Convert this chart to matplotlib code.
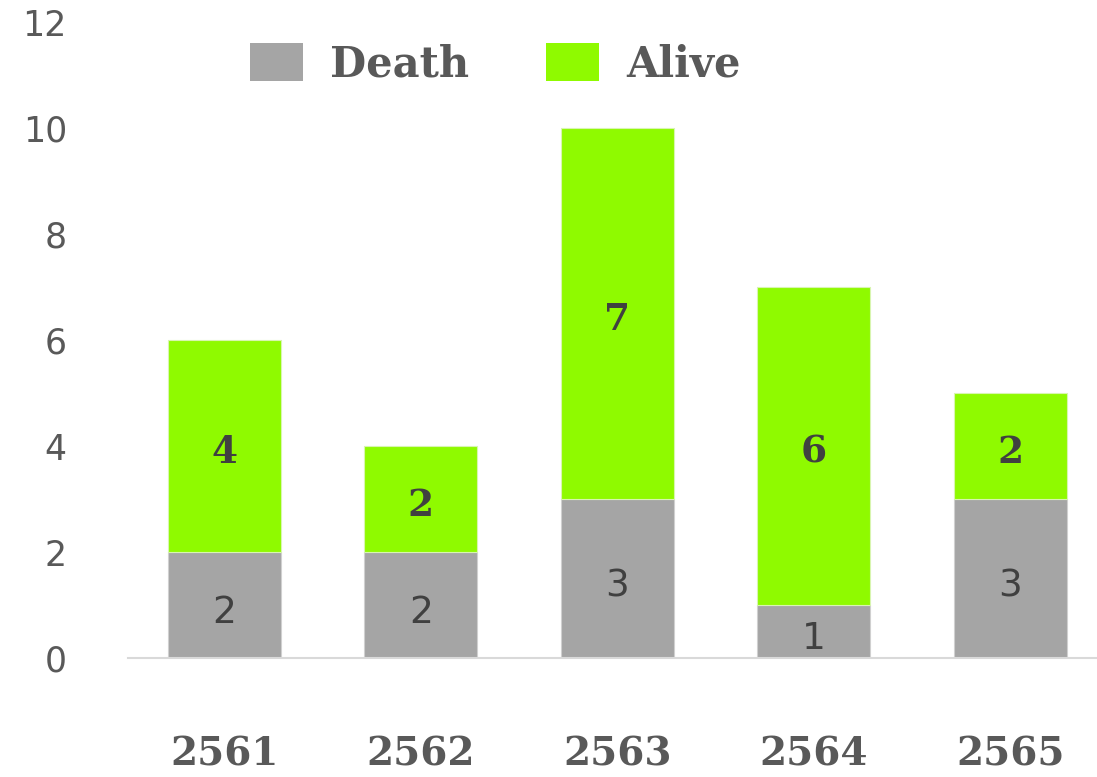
import matplotlib
matplotlib.use("Agg")
import matplotlib.pyplot as plt
import numpy as np

# data
years = ["2561", "2562", "2563", "2564", "2565"]
death = [2, 2, 3, 1, 3]
alive = [4, 2, 7, 6, 2]
yticks = [0, 2, 4, 6, 8, 10, 12]

GRAY = "#A5A5A5"
GREEN = "#8FFA00"
TEXT = "#595959"
DARK = "#404040"

fig = plt.figure(figsize=(10.97, 7.77), dpi=100)
ax = fig.add_axes([0.1167, 0.153, 0.8833, 0.8185])

x = np.arange(len(years))
w = 0.575
ax.bar(x, death, w, color=GRAY, edgecolor="#D0D0D0", linewidth=0.8, label="Death")
ax.bar(x, alive, w, bottom=death, color=GREEN, edgecolor="#D8F5B0", linewidth=0.8, label="Alive")

# value labels inside the segments
for xi, d, a in zip(x, death, alive):
    ax.text(xi, d / 2 - 0.14, str(d), ha="center", va="center",
            fontsize=27, color=DARK, family="DejaVu Sans")
    ax.text(xi, d + a / 2 - 0.12, str(a), ha="center", va="center",
            fontsize=27, color=DARK, family="DejaVu Serif", fontweight="bold")

ax.set_xlim(-0.49, 4.44)
ax.set_ylim(0, 12)
ax.set_yticks(yticks)
ax.set_yticklabels([str(t) for t in yticks], fontsize=25, color=TEXT, family="DejaVu Sans")
ax.set_xticks(x)
ax.set_xticklabels(years, fontsize=28, color=TEXT, family="DejaVu Serif", fontweight="bold")
ax.tick_params(axis="y", length=0, pad=44)
ax.tick_params(axis="x", length=0, pad=56)

for s in ["top", "right", "left"]:
    ax.spines[s].set_visible(False)
ax.spines["bottom"].set_color("#D9D9D9")
ax.spines["bottom"].set_linewidth(1.5)

leg = fig.legend(loc="center", bbox_to_anchor=(495 / 1097, 1 - 64 / 777), ncol=2,
                 frameon=False, handlelength=1.27, handleheight=1.03,
                 handletextpad=0.65, columnspacing=1.85,
                 prop={"family": "DejaVu Serif", "weight": "bold", "size": 30})
for t in leg.get_texts():
    t.set_color(TEXT)
for h in leg.legend_handles:
    h.set_edgecolor("none")

fig.savefig("out.png", dpi=100)
